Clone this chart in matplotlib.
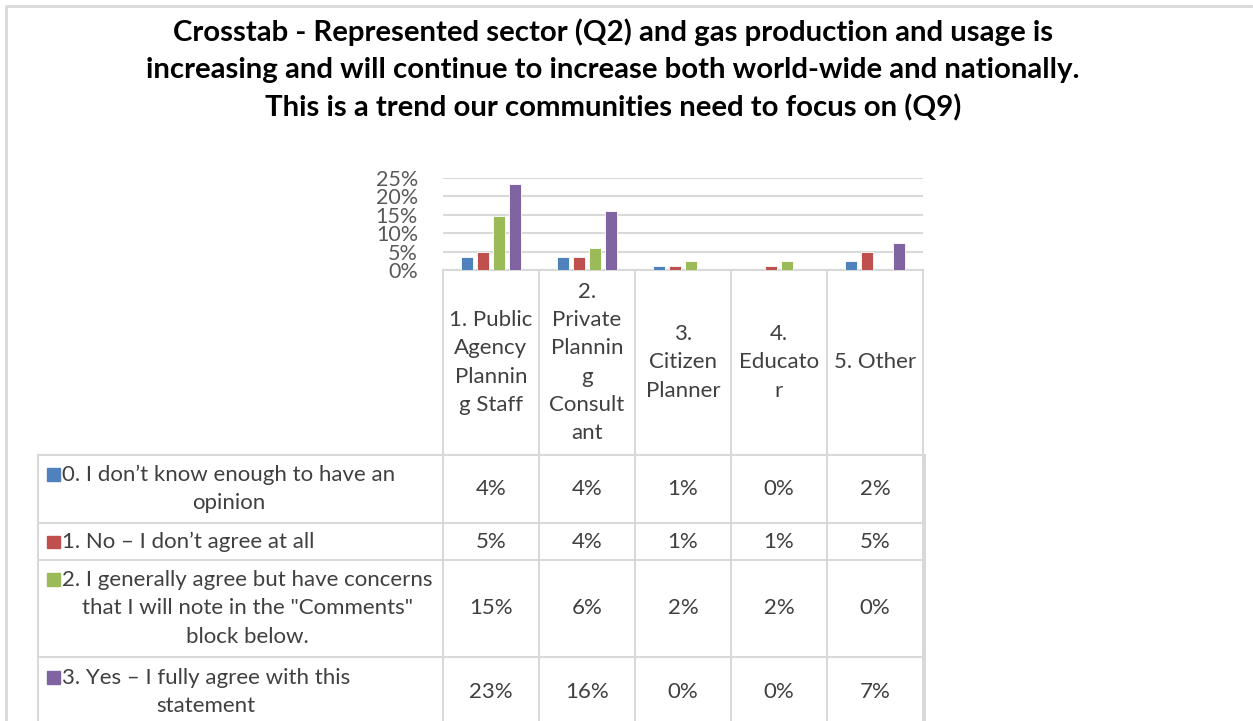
import numpy as np
import matplotlib.pyplot as plt
from matplotlib.patches import Rectangle

plt.rcParams['font.family'] = ['Lato', 'DejaVu Sans']

title = ("Crosstab - Represented sector (Q2) and gas production and usage is\n"
         "increasing and will continue to increase both world-wide and nationally.\n"
         "This is a trend our communities need to focus on (Q9)")

sectors = ["1. Public\nAgency\nPlannin\ng Staff",
           "2.\nPrivate\nPlannin\ng\nConsult\nant",
           "3.\nCitizen\nPlanner",
           "4.\nEducato\nr",
           "5. Other"]

answers = ["0. I don\u2019t know enough to have an\nopinion",
           "1. No \u2013 I don\u2019t agree at all",
           "2. I generally agree but have concerns\nthat I will note in the \"Comments\"\nblock below.",
           "3. Yes \u2013 I fully agree with this\nstatement"]

# share of respondents (%) per answer, by sector
dont_know = [3.6, 3.6, 1.2, 0.0, 2.4]
no_agree = [4.8, 3.6, 1.2, 1.2, 4.8]
agree_concerns = [14.8, 6.0, 2.4, 2.4, 0.0]
fully_agree = [23.4, 15.9, 0.0, 0.0, 7.3]
series = [dont_know, no_agree, agree_concerns, fully_agree]

colors = ["#4F81BD", "#C0504D", "#9BBB59", "#8064A2"]
grid_c = "#d9d9d9"
text_c = "#404040"
fs = 16
ls = 1.52
pitch = 29.5

W, H = 1253, 721
fig = plt.figure(figsize=(W / 100, H / 100), dpi=100)

# overlay in pixel coordinates for the frame and data table
over = fig.add_axes([0, 0, 1, 1], zorder=0)
over.set_xlim(0, W)
over.set_ylim(H, 0)
over.axis("off")

# chart frame
over.plot([6, 6, 1251], [H, 5.5, 5.5], color=grid_c, lw=2)

over.text(613, 70, title, ha="center", va="center", fontsize=21.2,
          fontweight="bold", color="black", linespacing=1.5)

# bar chart
x0, x1, yb, yt = 443, 923, 270, 178
ax = fig.add_axes([x0 / W, 1 - yb / H, (x1 - x0) / W, (yb - yt) / H], zorder=1)
ax.patch.set_alpha(0)
n = len(sectors)
x = np.arange(n)
for i, (vals, c) in enumerate(zip(series, colors)):
    ax.bar(x + (i - 1.5) * 0.167, vals, width=0.13, color=c,
           edgecolor="white", linewidth=0.6, zorder=3)
ax.set_xlim(-0.5, n - 0.5)
ax.set_ylim(0, 25)
ax.set_yticks(np.arange(0, 26, 5))
ax.set_yticklabels([f"{v}%" for v in range(0, 26, 5)])
ax.yaxis.grid(True, color=grid_c, lw=1.5, zorder=0)
ax.tick_params(axis="y", length=0, labelsize=15.5, labelcolor="#595959", pad=18)
ax.set_xticks([])
for s in ["top", "right", "left"]:
    ax.spines[s].set_visible(False)
ax.spines["bottom"].set_color(grid_c)
ax.spines["bottom"].set_linewidth(1.5)

# data table below the chart
col_w = (x1 - x0) / n
cols = [x0 + col_w * k for k in range(n + 1)]
rows = [455, 523, 560, 657, 727]
left = 38
lw = 1.5
for cx in cols:
    over.plot([cx, cx], [yb, H], color=grid_c, lw=lw)
over.plot([x1 + 2, x1 + 2], [455, H], color=grid_c, lw=lw)
over.plot([left, left], [455, H], color=grid_c, lw=lw)
for ry in rows[:-1]:
    over.plot([left, x1], [ry, ry], color=grid_c, lw=lw)

for k, lab in enumerate(sectors):
    over.text(cols[k] + col_w / 2, (yb + rows[0]) / 2, lab, ha="center",
              va="center", fontsize=fs, color=text_c, linespacing=ls)

for r, (lab, vals, c) in enumerate(zip(answers, series, colors)):
    yc = (rows[r] + rows[r + 1]) / 2
    nlines = lab.count("\n") + 1
    ytop = yc - (nlines - 1) * pitch / 2
    over.add_patch(Rectangle((47, ytop - 6), 12.5, 12.5, color=c))
    over.text(62, yc, lab, ha="left", va="center", multialignment="center",
              fontsize=fs, color=text_c, linespacing=ls)
    for k, v in enumerate(vals):
        over.text(cols[k] + col_w / 2, yc, f"{v:.0f}%", ha="center",
                  va="center", fontsize=fs, color=text_c)

fig.savefig("out.png", dpi=100)
